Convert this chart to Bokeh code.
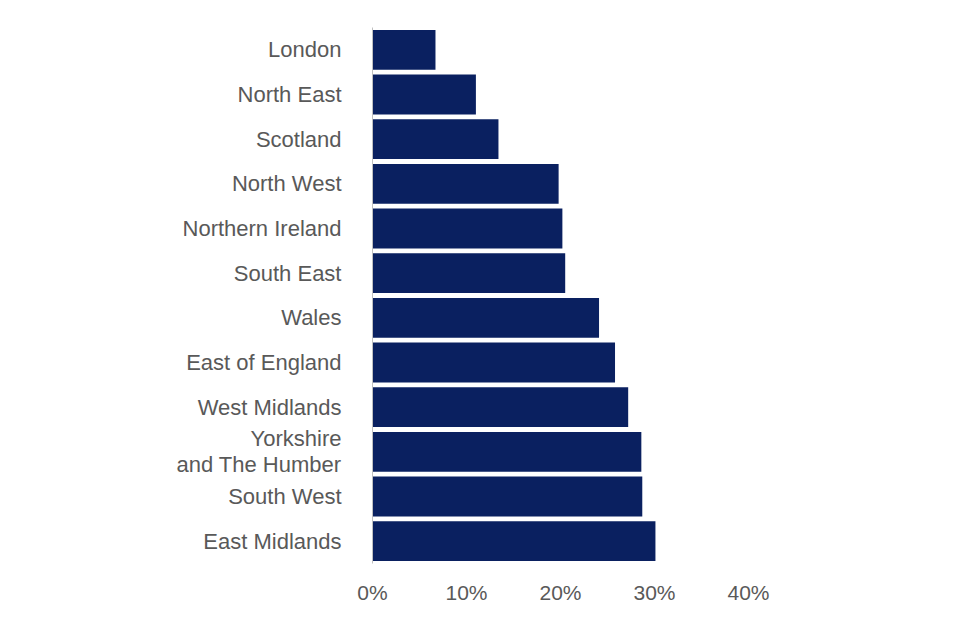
from bokeh.plotting import figure
from bokeh.models import FactorRange, Range1d, PrintfTickFormatter, FixedTicker
from bokeh.embed import file_html
from bokeh.resources import INLINE

regions = ["London", "North East", "Scotland", "North West", "Northern Ireland",
           "South East", "Wales", "East of England", "West Midlands",
           "Yorkshire\nand The Humber", "South West", "East Midlands"]
values = [6.7, 11.0, 13.4, 19.8, 20.2, 20.5, 24.1, 25.8, 27.2, 28.6, 28.7, 30.1]
x_ticks = [0, 10, 20, 30, 40]

W, H = 944, 624
p = figure(width=W, height=H, output_backend="svg", toolbar_location=None,
           y_range=FactorRange(factors=list(reversed(regions)), range_padding=0),
           x_range=Range1d(0, 40),
           min_border_left=372, min_border_right=196, min_border_top=27, min_border_bottom=61)

p.hbar(y=regions, right=values, left=0, height=0.89, color="#0a2060", line_color=None)

p.xgrid.visible = False
p.ygrid.visible = False
p.outline_line_color = None

p.xaxis.ticker = FixedTicker(ticks=x_ticks)
p.xaxis.formatter = PrintfTickFormatter(format="%d%%")
p.xaxis.axis_line_color = None
p.xaxis.major_tick_line_color = None
p.xaxis.minor_tick_line_color = None
p.xaxis.major_label_standoff = 11
p.xaxis.major_label_text_font_size = "21px"

p.yaxis.axis_line_color = "#c0c0c0"
p.yaxis.axis_line_width = 1
p.yaxis.major_tick_line_color = None
p.yaxis.major_label_standoff = 25
p.yaxis.major_label_text_font_size = "22px"
p.yaxis.major_label_text_line_height = 1.05

for ax in (p.xaxis, p.yaxis):
    ax.major_label_text_font = "Liberation Sans"
    ax.major_label_text_color = "#595959"

open("out.html", "w").write(file_html(p, INLINE))
